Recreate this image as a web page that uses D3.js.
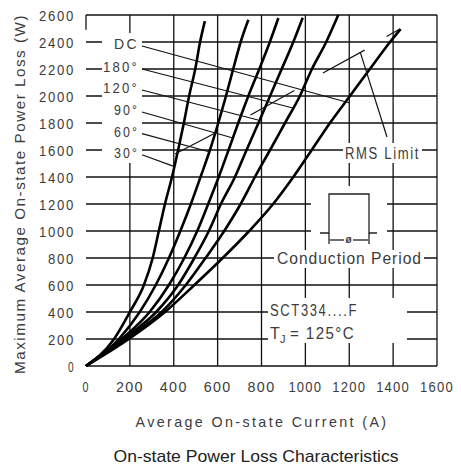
<!DOCTYPE html>
<html>
<head>
<meta charset="utf-8">
<script src="https://cdn.jsdelivr.net/npm/d3@7/dist/d3.min.js"></script>
<style>
body { margin:0; background:#fff; }
svg { display:block; }
text { font-family:"Liberation Sans",Arial,sans-serif; fill:#3c3c3c; }
</style>
</head>
<body>
<div id="chart"></div>
<script>
// axis ticks
var currentTicks = [0,200,400,600,800,1000,1200,1400,1600];
var lossTicks = [0,200,400,600,800,1000,1200,1400,1600,1800,2000,2200,2400,2600];

// curves read at every 200 W step, last point = where the curve stops
var lossLevels = [0,200,400,600,800,1000,1200,1400,1600,1800,2000,2200,2400];
var angleNames = ["30°","60°","90°","120°","180°","DC"];
var cur30  = [0,128,200,264,304,332,360,392,420,446,470,498,520];
var cur60  = [0,150,245,318,378,430,478,522,565,603,638,671,705];
var cur90  = [0,162,290,378,448,507,557,605,650,694,740,790,838];
var cur120 = [0,170,320,420,494,560,615,679,732,786,839,892,945];
var cur180 = [0,180,345,455,545,630,705,770,839,907,975,1030,1095];
var curDC  = [0,195,360,494,623,744,853,945,1029,1112,1203,1294,1386];
var endCurrent = [542,740,877,988,1150,1434];
var endLoss    = [2555,2565,2578,2580,2600,2496];

// where each label pointer touches its curve
var tipCurrent = [397,565,670,784,943,1203];
var tipLoss    = [1481,1585,1689,1822,1911,1948];
var labelLoss  = [1580,1736,1896,2059,2215,2385];

var W = 461, H = 468;
var svg = d3.select("#chart").append("svg")
    .attr("width", W)
    .attr("height", H);

var x = d3.scaleLinear().domain([0,1600]).range([86,437]);
var y = d3.scaleLinear().domain([0,2600]).range([366,15]);

// squeeze a spaced-out text into the width the original has
function fit(sel, len, sp){
  return sel.attr("textLength", len).attr("lengthAdjust","spacingAndGlyphs")
    .style("letter-spacing", (sp || 0) + "px");
}

// grid
var grid = svg.append("g").attr("stroke","#111").attr("stroke-width",1.3);
grid.selectAll("line.v")
  .data(currentTicks.filter(function(d){ return d>0; }))
  .enter().append("line")
    .attr("x1", x).attr("x2", x)
    .attr("y1", y(2600)).attr("y2", y(0));
grid.selectAll("line.h")
  .data(lossTicks)
  .enter().append("line")
    .attr("x1", x(0)).attr("x2", x(1600))
    .attr("y1", y).attr("y2", y);
// short stub of the left border at the top corner
grid.append("line").attr("x1",x(0)).attr("x2",x(0)).attr("y1",y(2600)).attr("y2",y(2490));

// white patches behind annotations
var blank = [
  [102,33,40,130],   // angle labels
  [311,186,76,66],   // conduction period sketch
  [274,250,150,18],  // conduction period text
  [343,143,79,20],   // RMS Limit
  [268,298,139,45]   // device / Tj text
];
svg.selectAll("rect.blank").data(blank).enter().append("rect")
  .attr("x", function(d){return d[0];}).attr("y", function(d){return d[1];})
  .attr("width", function(d){return d[2];}).attr("height", function(d){return d[3];})
  .attr("fill","#fff");

// curves
var series = [cur30,cur60,cur90,cur120,cur180,curDC];
var line = d3.line()
    .x(function(d){ return x(d[0]); })
    .y(function(d){ return y(d[1]); })
    .curve(d3.curveMonotoneX);
svg.append("g").selectAll("path").data(series).enter().append("path")
  .attr("d", function(s,i){
    var pts = s.map(function(c,j){ return [c, lossLevels[j]]; });
    pts.push([endCurrent[i], endLoss[i]]);
    return line(pts);
  })
  .attr("fill","none").attr("stroke","#000").attr("stroke-width",2.6)
  .attr("stroke-linejoin","round");

// angle labels and pointers
var labW = [25,25,25,36,36,25];
var lab = svg.append("g");
angleNames.forEach(function(n,i){
  var ly = y(labelLoss[i]);
  fit(lab.append("text").attr("x",139).attr("y",ly+5)
    .attr("text-anchor","end").style("font-size","15px")
    .text(n), labW[i], 2.5);
  lab.append("line").attr("stroke","#111").attr("stroke-width",1.2)
    .attr("x1",142).attr("y1",ly+2)
    .attr("x2",x(tipCurrent[i])).attr("y2",y(tipLoss[i]));
});

// RMS limit trace (drawn in pieces like the original)
var rmsPieces = [[406,1570,600,1735],[750,1860,950,2040],[1080,2170,1270,2340],[1370,2440,1431,2496]];
svg.selectAll("line.rms").data(rmsPieces).enter().append("line")
  .attr("stroke","#111").attr("stroke-width",1.2)
  .attr("x1",function(d){return x(d[0]);}).attr("y1",function(d){return y(d[1]);})
  .attr("x2",function(d){return x(d[2]);}).attr("y2",function(d){return y(d[3]);});
svg.append("line").attr("stroke","#111").attr("stroke-width",1.2)
  .attr("x1",x(1250)).attr("y1",y(2325)).attr("x2",387).attr("y2",137);
fit(svg.append("text").attr("x",345).attr("y",159)
  .style("font-size","16px").text("RMS Limit"), 75, 2);

// conduction period sketch
var cp = svg.append("g").attr("stroke","#222").attr("stroke-width",1.3).attr("fill","none");
cp.append("path").attr("d","M320,233 H329 V194 H369 V233 H377");
cp.append("line").attr("x1",329).attr("x2",329).attr("y1",233).attr("y2",244);
cp.append("line").attr("x1",369).attr("x2",369).attr("y1",233).attr("y2",244);
cp.append("line").attr("x1",330).attr("x2",344).attr("y1",240).attr("y2",240);
cp.append("line").attr("x1",353).attr("x2",368).attr("y1",240).attr("y2",240);
svg.append("text").attr("x",348.5).attr("y",243).attr("text-anchor","middle")
  .style("font-size","10px").style("font-weight","bold").text("ø");
fit(svg.append("text").attr("x",277).attr("y",264)
  .style("font-size","16px").text("Conduction Period"), 145, 1);

fit(svg.append("text").attr("x",270).attr("y",316)
  .style("font-size","16px").text("SCT334....F"), 88, 2);
// T with subscript J, then the temperature as its own text
svg.append("text").attr("x",270).attr("y",339).style("font-size","16px").text("T");
svg.append("text").attr("x",280).attr("y",343).style("font-size","11px").text("J");
fit(svg.append("text").attr("x",290).attr("y",339)
  .style("font-size","16px").text("= 125°C"), 65, 1.5);

// tick labels
var yLen = {1:7, 3:27, 4:36};
var xLen = {1:7, 3:28, 4:34};
svg.selectAll("text.ytick").data(lossTicks).enter().append("text")
  .attr("x",75).attr("y",function(d){ return y(d)+5.5; })
  .attr("text-anchor","end").style("font-size","15.5px").style("letter-spacing","2px")
  .attr("textLength", function(d){ return yLen[String(d).length]; })
  .attr("lengthAdjust","spacingAndGlyphs")
  .text(function(d){ return d; });
svg.selectAll("text.xtick").data(currentTicks).enter().append("text")
  .attr("x",function(d){ return x(d); }).attr("y",392)
  .attr("text-anchor","middle").style("font-size","15.5px").style("letter-spacing","1.5px")
  .attr("textLength", function(d){ return xLen[String(d).length]; })
  .attr("lengthAdjust","spacingAndGlyphs")
  .text(function(d){ return d; });

// axis titles
fit(svg.append("text").attr("transform","translate(25,194) rotate(-90)")
  .attr("text-anchor","middle").style("font-size","15px")
  .text("Maximum Average On-state Power Loss (W)"), 360, 1.5);
fit(svg.append("text").attr("x",262).attr("y",427).attr("text-anchor","middle")
  .style("font-size","15px")
  .text("Average On-state Current (A)"), 253, 2.5);
fit(svg.append("text").attr("x",256).attr("y",462).attr("text-anchor","middle")
  .style("font-size","17px").style("fill","#222")
  .text("On-state Power Loss Characteristics"), 285);
</script>
</body>
</html>
